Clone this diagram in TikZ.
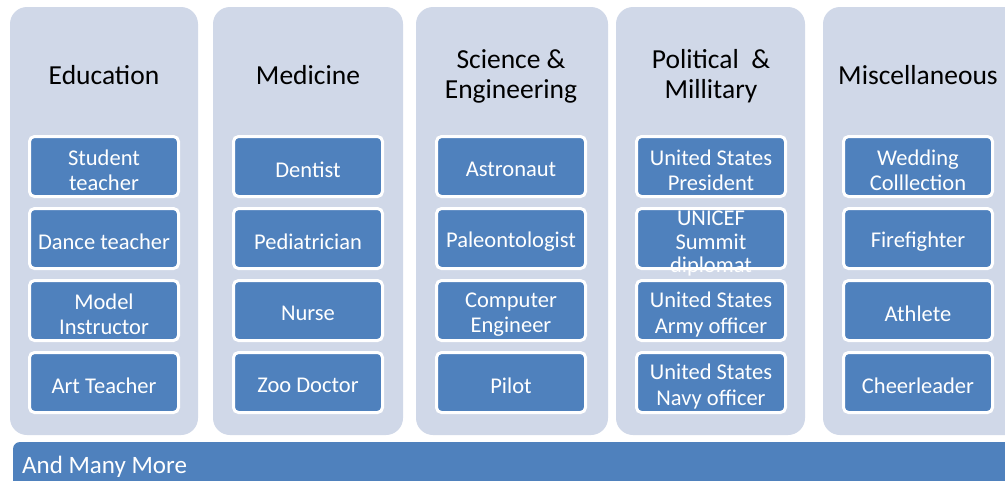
\documentclass[tikz,border=0pt]{standalone}
\usepackage{fontspec}
\setmainfont{Carlito}
\definecolor{panelfill}{HTML}{D0D8E8}
\definecolor{itemblue}{HTML}{4F81BD}
% one item: a bordered blue box with its white label set slightly low
\newcommand{\itembox}[5][25.5]{%
  \node[itemframe] (#2) at (#3) {};
  \node[itemtext, font=\fontsize{22.5}{#1}\selectfont] (#2-t) at ([yshift=#4]#2.center) {#5};}
\begin{document}
\begin{tikzpicture}[x=1pt,y=-1pt,
  panel/.style={fill=panelfill, rounded corners=17pt},
  heading/.style={align=center, font=\fontsize{27.5}{30}\selectfont, text=black, inner sep=0pt},
  itemframe/.style={fill=itemblue, draw=white, line width=3pt, rounded corners=5pt,
    minimum width=149pt, minimum height=60pt, inner sep=0pt},
  itemtext/.style={align=center, text=white, inner sep=0pt},
  bar/.style={fill=itemblue, rounded corners=7pt}]
\useasboundingbox (0,0) rectangle (1005,480);
\fill[white] (0,0) rectangle (1005,480);

% column panels
\foreach \x/\w in {10/188, 213/190, 416/192, 616/189, 823/200}
  \fill[panel] (\x,7) rectangle ++(\w,428);

% headings
\node[heading] (h1) at (104,75.5) {Education};
\node[heading] (h2) at (308,75.5) {Medicine};
\node[heading] (h3) at (511,76) {Science \&\\Engineering};
\node[heading] (h4) at (711,76) {Political\ \ \&\\Millitary};
\node[heading] (h5) at (918,75.5) {Miscellaneous};

% Education
\itembox{e1}{104,166.5}{-4pt}{Student\\teacher}
\itembox{e2}{104,238.5}{-3pt}{Dance teacher}
\itembox{e3}{104,310.5}{-4pt}{Model\\Instructor}
\itembox{e4}{104,382.5}{-3pt}{Art Teacher}

% Medicine
\itembox{m1}{308,166.5}{-3pt}{Dentist}
\itembox{m2}{308,238.5}{-3pt}{Pediatrician}
\itembox{m3}{308,310.5}{-3pt}{Nurse}
\itembox{m4}{308,382.5}{-3pt}{Zoo Doctor}

% Science & Engineering
\itembox{s1}{511,166.5}{-3pt}{Astronaut}
\itembox{s2}{511,238.5}{-3pt}{Paleontologist}
\itembox{s3}{511,310.5}{-4pt}{Computer\\Engineer}
\itembox{s4}{511,382.5}{-3pt}{Pilot}

% Political & Military
\itembox{p1}{711,166.5}{-4pt}{United States\\President}
\itembox[23.5]{p2}{711,238.5}{-5.5pt}{UNICEF\\Summit\\diplomat}
\itembox{p3}{711,310.5}{-4pt}{United States\\Army officer}
\itembox{p4}{711,382.5}{-4pt}{United States\\Navy officer}

% Miscellaneous
\itembox{x1}{918,166.5}{-4pt}{Wedding\\Colllection}
\itembox{x2}{918,238.5}{-3pt}{Firefighter}
\itembox{x3}{918,310.5}{-3pt}{Athlete}
\itembox{x4}{918,382.5}{-3pt}{Cheerleader}

% footer bar
\fill[bar] (13,442) rectangle (1020,495);
\node[anchor=west, text=white, font=\fontsize{25}{28}\selectfont, inner sep=0pt]
  (more) at (22,467) {And Many More};
\end{tikzpicture}
\end{document}
